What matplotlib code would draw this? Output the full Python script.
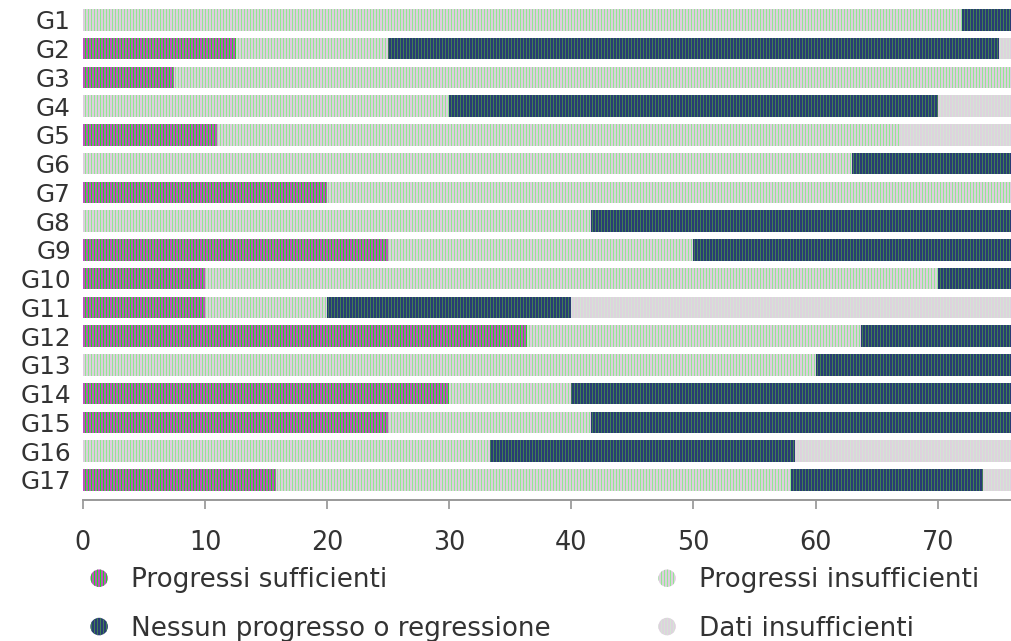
import numpy as np
import matplotlib.pyplot as plt
import matplotlib.patches as mpatches
from matplotlib.legend_handler import HandlerPatch

# dpi chosen so the hatch tile (1 inch) holds a whole number of 3 px stripes
DPI = 108
plt.rcParams['font.family'] = ['DejaVu Sans']
plt.rcParams['hatch.linewidth'] = 1.0

# data (percent of targets per goal)
goals = ['G1', 'G2', 'G3', 'G4', 'G5', 'G6', 'G7', 'G8', 'G9', 'G10',
         'G11', 'G12', 'G13', 'G14', 'G15', 'G16', 'G17']
sufficienti = [0, 12.5, 7.5, 0, 11, 0, 20, 0, 25, 10, 10, 36.4, 0, 30, 25, 0, 15.8]
insufficienti = [72, 12.5, 92.5, 30, 55.8, 63, 80, 41.6, 25, 60, 10, 27.3, 60, 10, 16.6, 33.3, 42.2]
nessun = [28, 50, 0, 40, 0, 37, 0, 58.4, 50, 30, 20, 36.3, 40, 60, 58.4, 25, 15.7]
dati = [0, 25, 0, 30, 33.2, 0, 0, 0, 0, 0, 60, 0, 0, 0, 0, 41.7, 26.3]

series = [
    ('Progressi sufficienti', sufficienti, '#f028f0', '#22dc22'),
    ('Progressi insufficienti', insufficienti, '#f8c6f8', '#92e892'),
    ('Nessun progresso o regressione', nessun, '#222680', '#3f7f52'),
    ('Dati insufficienti', dati, '#e2cce2', '#d4e4d4'),
]

fig = plt.figure(figsize=(1011 / DPI, 641 / DPI), dpi=DPI)
ax = fig.add_axes([0.082, 0.22, 0.918, 0.771])

y = np.arange(len(goals))
left = np.zeros(len(goals))
handles = {}
for name, vals, face, hatchc in series:
    vals = np.array(vals, dtype=float)
    bars = ax.barh(y, vals, left=left, height=0.75, color=face,
                   edgecolor=hatchc, linewidth=0, hatch='||||||')
    handles[name] = bars[0]
    left += vals

ax.set_xlim(0, 76)
ax.set_ylim(16.7, -0.49)
ax.set_yticks(y)
ax.set_yticklabels(goals, fontsize=16.5, color='#333333')
ax.set_xticks(np.arange(0, 80, 10))
ax.tick_params(axis='x', length=6, width=1, color='#888888', pad=14,
               labelsize=17, labelcolor='#333333')
ax.tick_params(axis='y', length=0, pad=8)
for s in ['top', 'right', 'left']:
    ax.spines[s].set_visible(False)
ax.spines['bottom'].set_color('#999999')
ax.spines['bottom'].set_linewidth(1.3)


def circle_patch(legend, orig_handle, xdescent, ydescent, width, height, fontsize):
    return mpatches.Ellipse((width / 2 - xdescent, height / 2 - ydescent),
                            width=height * 0.95, height=height * 0.95)


order = ['Progressi sufficienti', 'Nessun progresso o regressione',
         'Progressi insufficienti', 'Dati insufficienti']
fig.legend([handles[k] for k in order], order, ncol=2, loc='lower left',
           bbox_to_anchor=(0.063, -0.038), frameon=False, fontsize=17.5,
           handlelength=0.9, handletextpad=0.75, columnspacing=4.0,
           labelspacing=0.85, labelcolor='#333333',
           handler_map={mpatches.Rectangle: HandlerPatch(patch_func=circle_patch)})

fig.savefig('out.png', dpi=DPI)
